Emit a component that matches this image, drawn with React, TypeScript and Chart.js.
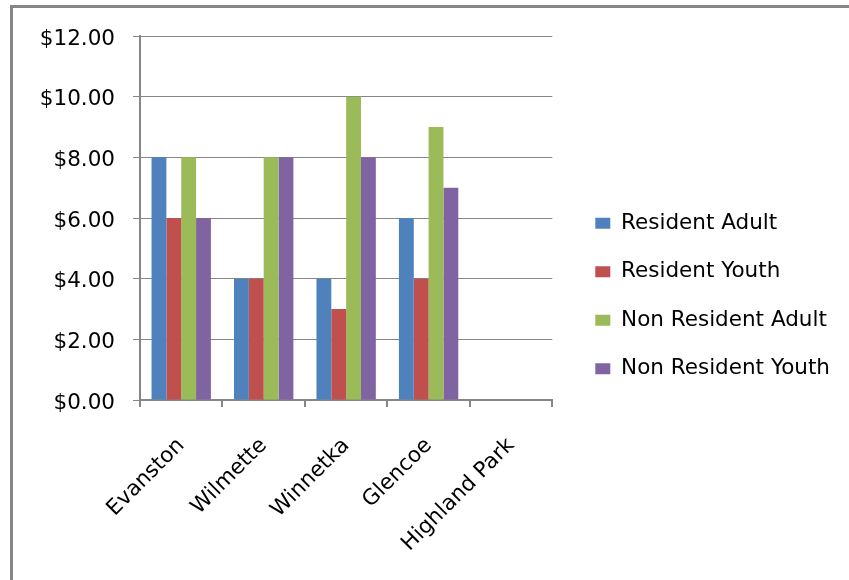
import React, { useEffect, useRef } from "react";
import { Chart, registerables } from "chart.js";

Chart.register(...registerables);

const categories = ["Evanston", "Wilmette", "Winnetka", "Glencoe", "Highland Park"];
const residentAdult = [8, 4, 4, 6, null];
const residentYouth = [6, 4, 3, 4, null];
const nonResidentAdult = [8, 8, 10, 9, null];
const nonResidentYouth = [6, 8, 8, 7, null];
const seriesNames = ["Resident Adult", "Resident Youth", "Non Resident Adult", "Non Resident Youth"];
const seriesColors = ["#4F81BD", "#C0504D", "#9BBB59", "#8064A2"];

const FONT = "'DejaVu Sans', sans-serif";
const FSIZE = 21.5;
const GRAY = "#868686";
const LEGEND_SHIFT = 16;

const frame = {
  id: "frame",
  beforeDraw(chart: any) {
    const ctx = chart.ctx;
    ctx.save();
    ctx.fillStyle = "#ffffff";
    ctx.fillRect(0, 0, chart.width, chart.height);
    ctx.fillStyle = GRAY;
    ctx.fillRect(10, 5, chart.width - 10, 3);
    ctx.fillRect(10, 5, 3, chart.height - 5);
    ctx.restore();
  },
  afterLayout(chart: any) {
    const l = chart.legend;
    if (l) {
      l.left += LEGEND_SHIFT;
      l.right += LEGEND_SHIFT;
    }
  },
};

export default function App() {
  const ref = useRef<HTMLCanvasElement>(null);
  useEffect(() => {
    const values = [residentAdult, residentYouth, nonResidentAdult, nonResidentYouth];
    const chart = new Chart(ref.current!, {
      type: "bar",
      data: {
        labels: categories,
        datasets: values.map((d, i) => ({
          label: seriesNames[i],
          data: d,
          backgroundColor: seriesColors[i],
          borderWidth: 0,
          barPercentage: 1,
          categoryPercentage: 0.72,
        })),
      },
      options: {
        animation: false,
        responsive: false,
        devicePixelRatio: 1,
        layout: { padding: { top: 36, bottom: 24, left: 0, right: 25 } },
        plugins: {
          tooltip: { enabled: false },
          legend: {
            position: "right",
            align: "center",
            maxWidth: 320,
            labels: {
              boxWidth: 15,
              boxHeight: 11,
              padding: 27,
              color: "#000",
              font: { family: FONT, size: FSIZE },
            },
          },
        },
        scales: {
          x: {
            grid: { drawOnChartArea: false, drawTicks: true, tickLength: 7, color: GRAY, lineWidth: 2 },
            border: { color: GRAY, width: 2 },
            ticks: {
              color: "#000",
              font: { family: FONT, size: FSIZE },
              minRotation: 45,
              maxRotation: 45,
              padding: 26,
            },
            afterFit(scale: any) {
              scale.height = 156;
            },
          },
          y: {
            min: 0,
            max: 12,
            grid: { color: GRAY, lineWidth: 1, tickLength: 7 },
            border: { color: GRAY, width: 2 },
            ticks: {
              stepSize: 2,
              color: "#000",
              font: { family: FONT, size: FSIZE },
              padding: 18,
              labelOffset: 3,
              callback: (v: any) => "$" + Number(v).toFixed(2),
            },
            afterFit(scale: any) {
              scale.width = 140;
            },
          },
        },
      },
      plugins: [frame],
    });
    return () => chart.destroy();
  }, []);
  return (
    <div style={{ position: "absolute", left: 0, top: 0, width: 849, height: 580 }}>
      <canvas ref={ref} width={849} height={580} style={{ display: "block" }} />
    </div>
  );
}
